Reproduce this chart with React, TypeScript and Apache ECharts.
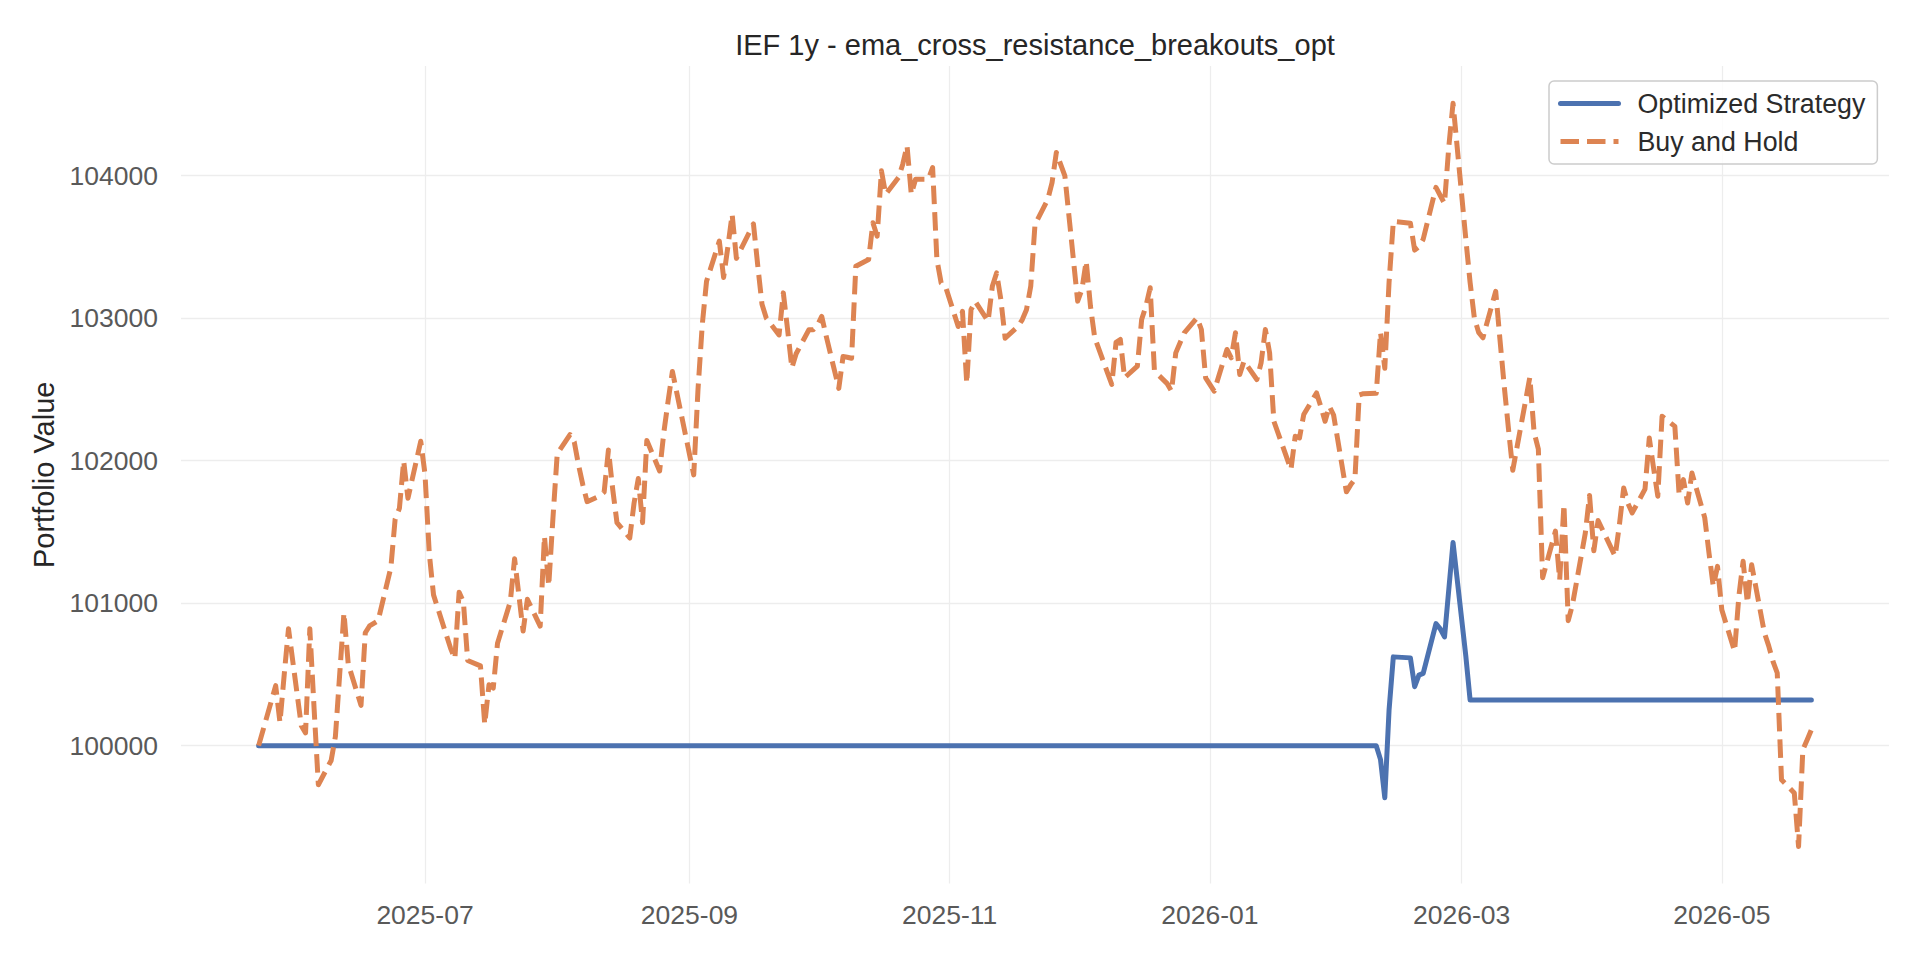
import React, { useEffect, useRef } from "react";
import * as echarts from "echarts";

const titleText = "IEF 1y - ema_cross_resistance_breakouts_opt";
const yAxisName = "Portfolio Value";
const seriesNames = ["Optimized Strategy", "Buy and Hold"];

const xTickMonths = ["2025-07", "2025-09", "2025-11", "2026-01", "2026-03", "2026-05"];
const yTickValues = [100000, 101000, 102000, 103000, 104000];

const stratDates = [
  "2025-05-23", "2026-02-09", "2026-02-10", "2026-02-11", "2026-02-12", "2026-02-13",
  "2026-02-17", "2026-02-18", "2026-02-19", "2026-02-20", "2026-02-23", "2026-02-24",
  "2026-02-25", "2026-02-26", "2026-02-27", "2026-03-02", "2026-03-03", "2026-05-22",
];
const stratValues = [
  100000, 100000, 99902, 99635, 100250, 100623,
  100616, 100414, 100495, 100507, 100856, 100820,
  100763, 101095, 101426, 100628, 100321, 100321,
];

const bhDates = [
  "2025-05-23", "2025-05-27", "2025-05-28", "2025-05-29", "2025-05-30",
  "2025-06-02", "2025-06-03", "2025-06-04", "2025-06-05", "2025-06-06",
  "2025-06-09", "2025-06-10", "2025-06-11", "2025-06-12", "2025-06-13",
  "2025-06-16", "2025-06-17", "2025-06-18", "2025-06-20", "2025-06-23",
  "2025-06-24", "2025-06-25", "2025-06-26", "2025-06-27", "2025-06-30",
  "2025-07-01", "2025-07-02", "2025-07-03", "2025-07-07", "2025-07-08",
  "2025-07-09", "2025-07-10", "2025-07-11", "2025-07-14", "2025-07-15",
  "2025-07-16", "2025-07-17", "2025-07-18", "2025-07-21", "2025-07-22",
  "2025-07-23", "2025-07-24", "2025-07-25", "2025-07-28", "2025-07-29",
  "2025-07-30", "2025-07-31", "2025-08-01", "2025-08-04", "2025-08-05",
  "2025-08-06", "2025-08-07", "2025-08-08", "2025-08-11", "2025-08-12",
  "2025-08-13", "2025-08-14", "2025-08-15", "2025-08-18", "2025-08-19",
  "2025-08-20", "2025-08-21", "2025-08-22", "2025-08-25", "2025-08-26",
  "2025-08-27", "2025-08-28", "2025-08-29", "2025-09-02", "2025-09-03",
  "2025-09-04", "2025-09-05", "2025-09-08", "2025-09-09", "2025-09-10",
  "2025-09-11", "2025-09-12", "2025-09-15", "2025-09-16", "2025-09-17",
  "2025-09-18", "2025-09-19", "2025-09-22", "2025-09-23", "2025-09-24",
  "2025-09-25", "2025-09-26", "2025-09-29", "2025-09-30", "2025-10-01",
  "2025-10-02", "2025-10-03", "2025-10-06", "2025-10-07", "2025-10-08",
  "2025-10-09", "2025-10-10", "2025-10-13", "2025-10-14", "2025-10-15",
  "2025-10-16", "2025-10-17", "2025-10-20", "2025-10-21", "2025-10-22",
  "2025-10-23", "2025-10-24", "2025-10-27", "2025-10-28", "2025-10-29",
  "2025-10-30", "2025-10-31", "2025-11-03", "2025-11-04", "2025-11-05",
  "2025-11-06", "2025-11-07", "2025-11-10", "2025-11-11", "2025-11-12",
  "2025-11-13", "2025-11-14", "2025-11-17", "2025-11-18", "2025-11-19",
  "2025-11-20", "2025-11-21", "2025-11-24", "2025-11-25", "2025-11-26",
  "2025-11-28", "2025-12-01", "2025-12-02", "2025-12-03", "2025-12-04",
  "2025-12-05", "2025-12-08", "2025-12-09", "2025-12-10", "2025-12-11",
  "2025-12-12", "2025-12-15", "2025-12-16", "2025-12-17", "2025-12-18",
  "2025-12-19", "2025-12-22", "2025-12-23", "2025-12-24", "2025-12-26",
  "2025-12-29", "2025-12-30", "2025-12-31", "2026-01-02", "2026-01-05",
  "2026-01-06", "2026-01-07", "2026-01-08", "2026-01-09", "2026-01-12",
  "2026-01-13", "2026-01-14", "2026-01-15", "2026-01-16", "2026-01-20",
  "2026-01-21", "2026-01-22", "2026-01-23", "2026-01-26", "2026-01-27",
  "2026-01-28", "2026-01-29", "2026-01-30", "2026-02-02", "2026-02-03",
  "2026-02-04", "2026-02-05", "2026-02-06", "2026-02-09", "2026-02-10",
  "2026-02-11", "2026-02-12", "2026-02-13", "2026-02-17", "2026-02-18",
  "2026-02-19", "2026-02-20", "2026-02-23", "2026-02-24", "2026-02-25",
  "2026-02-26", "2026-02-27", "2026-03-02", "2026-03-03", "2026-03-04",
  "2026-03-05", "2026-03-06", "2026-03-09", "2026-03-10", "2026-03-11",
  "2026-03-12", "2026-03-13", "2026-03-16", "2026-03-17", "2026-03-18",
  "2026-03-19", "2026-03-20", "2026-03-23", "2026-03-24", "2026-03-25",
  "2026-03-26", "2026-03-27", "2026-03-30", "2026-03-31", "2026-04-01",
  "2026-04-02", "2026-04-06", "2026-04-07", "2026-04-08", "2026-04-09",
  "2026-04-10", "2026-04-13", "2026-04-14", "2026-04-15", "2026-04-16",
  "2026-04-17", "2026-04-20", "2026-04-21", "2026-04-22", "2026-04-23",
  "2026-04-24", "2026-04-27", "2026-04-28", "2026-04-29", "2026-04-30",
  "2026-05-01", "2026-05-04", "2026-05-05", "2026-05-06", "2026-05-07",
  "2026-05-08", "2026-05-11", "2026-05-12", "2026-05-13", "2026-05-14",
  "2026-05-15", "2026-05-18", "2026-05-19", "2026-05-20", "2026-05-21",
  "2026-05-22",
];
const bhValues = [
  100000, 100421, 100162, 100500, 100821,
  100140, 100090, 100821, 100260, 99726,
  99896, 100065, 100500, 100932, 100574,
  100283, 100792, 100840, 100876, 101250,
  101590, 101665, 101998, 101736, 102136,
  101905, 101350, 101058, 100683, 100610,
  101077, 101010, 100598, 100560, 100150,
  100428, 100404, 100719, 101010, 101312,
  101058, 100804, 101027, 100839, 101470,
  101121, 101600, 102048, 102183, 102130,
  101968, 101830, 101712, 101753, 101780,
  102075, 101800, 101565, 101457, 101700,
  101874, 101565, 102142, 101927, 102200,
  102420, 102626, 102480, 101900, 102500,
  102954, 103258, 103540, 103285, 103500,
  103728, 103419, 103600, 103661, 103370,
  103097, 103000, 102882, 103177, 102920,
  102650, 102750, 102918, 102918, 102950,
  103012, 102880, 102507, 102730, 102725,
  102718, 103364, 103411, 103669, 103575,
  104033, 103869, 103986, 104080, 104209,
  103869, 103974, 103974, 104056, 103411,
  103246, 103223, 102941, 103047, 102542,
  103059, 103117, 102977, 103223, 103317,
  103129, 102859, 102941, 102988, 103059,
  103223, 103657, 103833, 103951, 104162,
  103998, 103119, 103201, 103400, 103084,
  102862, 102616, 102534, 102830, 102850,
  102581, 102663, 102990, 103084, 103213,
  102628, 102540, 102487, 102756, 102897,
  103002, 102920, 102581, 102487, 102780,
  102721, 102897, 102604, 102698, 102569,
  102686, 102920, 102756, 102276, 101937,
  102171, 102159, 102323, 102475, 102380,
  102276, 102382, 102320, 101781, 101830,
  101869, 102460, 102470, 102472, 102900,
  102648, 103250, 103678, 103666, 103477,
  103500, 103553, 103917, 103860, 103804,
  104200, 104508, 103553, 103250, 103000,
  102900, 102862, 103188, 102849, 102523,
  102221, 101932, 102420, 102585, 102200,
  102080, 101178, 101505, 101163, 101693,
  100877, 100990, 101490, 101756, 101367,
  101580, 101329, 101550, 101808, 101700,
  101633, 101800, 102159, 101950, 101750,
  102311, 102240, 101761, 101867, 101703,
  101913, 101600, 101352, 101118, 101258,
  100954, 100662, 101048, 101294, 101001,
  101270, 100790, 100700, 100592, 100510,
  99761, 99668, 99293, 99972, 100040,
  100112,
];

const FONT = "'Liberation Sans', Arial, Helvetica, sans-serif";

function toTime(s: string): number {
  const p = s.split("-").map(Number);
  return new Date(p[0], p[1] - 1, p[2] || 1).getTime();
}

function pad2(n: number): string {
  return n < 10 ? "0" + n : String(n);
}

export default function App() {
  const ref = useRef<HTMLDivElement>(null);

  useEffect(() => {
    if (!ref.current) return;
    const chart = echarts.init(ref.current, null, { renderer: "svg" });

    const stratData = stratDates.map((d, i) => [toTime(d), stratValues[i]]);
    const bhData = bhDates.map((d, i) => [toTime(d), bhValues[i]]);

    const allT = [...stratData, ...bhData].map((p) => p[0]);
    const allV = [...stratValues, ...bhValues];
    const tMin = Math.min(...allT);
    const tMax = Math.max(...allT);
    const vMin = Math.min(...allV);
    const vMax = Math.max(...allV);
    const tPad = (tMax - tMin) * 0.05;
    const vPad = (vMax - vMin) * 0.05;

    const xTicks = xTickMonths.map((m) => toTime(m + "-01"));

    const left = 181;
    const right = 31;
    const plotCenter = left + (1920 - left - right) / 2;

    const gridLine = { color: "#ededed", width: 1.3 };

    chart.setOption({
      animation: false,
      backgroundColor: "#ffffff",
      textStyle: { fontFamily: FONT },
      grid: {
        left,
        right,
        top: 66,
        bottom: 76.4,
        containLabel: false,
        outerBoundsMode: "none",
      },
      graphic: [
        {
          type: "text",
          x: plotCenter,
          y: 45,
          style: {
            text: titleText,
            fill: "#262626",
            font: `29px ${FONT}`,
            textAlign: "center",
            textVerticalAlign: "middle",
          },
        },
      ],
      legend: {
        orient: "vertical",
        left: 1549,
        top: 81,
        data: seriesNames,
        itemWidth: 58,
        itemHeight: 5,
        itemGap: 11,
        padding: [9, 12, 9, 9],
        backgroundColor: "rgba(255,255,255,0.8)",
        borderColor: "#cccccc",
        borderWidth: 1.5,
        borderRadius: 5,
        lineStyle: { width: 5 },
        textStyle: {
          color: "#2b2b2b",
          fontSize: 26.8,
          fontFamily: FONT,
          lineHeight: 27,
          padding: [0, 0, 0, 14],
        },
      },
      xAxis: {
        type: "value",
        min: tMin - tPad,
        max: tMax + tPad,
        axisLine: { show: false },
        axisTick: { show: false, customValues: xTicks },
        splitLine: { show: true, lineStyle: gridLine },
        axisLabel: {
          customValues: xTicks,
          color: "#595959",
          fontSize: 26.5,
          fontFamily: FONT,
          margin: 18,
          hideOverlap: false,
          formatter: (v: number) => {
            const d = new Date(v);
            return d.getFullYear() + "-" + pad2(d.getMonth() + 1);
          },
        },
      },
      yAxis: {
        type: "value",
        min: vMin - vPad,
        max: vMax + vPad,
        name: yAxisName,
        nameLocation: "middle",
        nameGap: 121,
        nameTextStyle: { color: "#262626", fontSize: 29, fontFamily: FONT },
        axisLine: { show: false },
        axisTick: { show: false, customValues: yTickValues },
        splitLine: { show: true, lineStyle: gridLine },
        axisLabel: {
          customValues: yTickValues,
          color: "#595959",
          fontSize: 26.5,
          fontFamily: FONT,
          margin: 23,
          formatter: (v: number) => String(Math.round(v)),
        },
      },
      series: [
        {
          name: seriesNames[0],
          type: "line",
          data: stratData,
          showSymbol: false,
          symbol: "none",
          color: "#4c72b0",
          lineStyle: { color: "#4c72b0", width: 5, cap: "round", join: "round" },
          z: 2,
        },
        {
          name: seriesNames[1],
          type: "line",
          data: bhData,
          showSymbol: false,
          symbol: "none",
          color: "#dd8452",
          lineStyle: { color: "#dd8452", width: 5, type: [18.5, 8], cap: "butt", join: "round" },
          z: 3,
        },
      ],
    });

    return () => {
      chart.dispose();
    };
  }, []);

  return (
    <div
      ref={ref}
      style={{ position: "fixed", left: 0, top: 0, width: 1920, height: 960, background: "#fff" }}
    />
  );
}
